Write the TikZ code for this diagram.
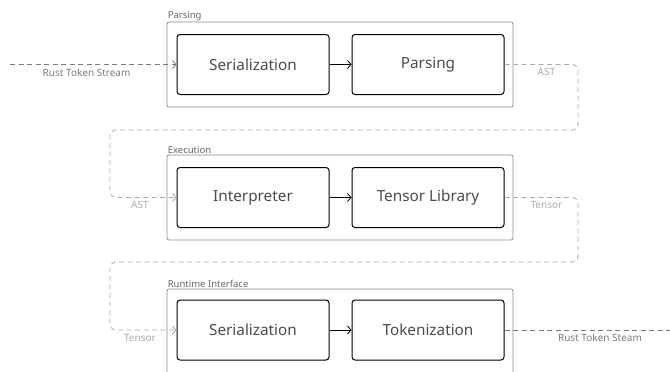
\documentclass[tikz,border=0pt]{standalone}
\usepackage{fontspec}
\setmainfont{Noto Sans}
\usetikzlibrary{positioning,arrows.meta}

\definecolor{boxtext}{HTML}{4A4A4A}
\definecolor{grouplabel}{HTML}{666666}
\definecolor{streamgray}{HTML}{7A7A7A}
\definecolor{datagray}{HTML}{ABABAB}

\tikzset{
	group/.style={draw=gray!90,line width=0.8pt,rounded corners=2pt,
		minimum width=346pt,minimum height=85pt,inner sep=0pt},
	grouptitle/.style={text=grouplabel,font=\fontsize{9.5}{11}\selectfont,inner sep=1pt,anchor=south west},
	stage/.style={draw=black,line width=1pt,rounded corners=3pt,
		minimum width=152pt,minimum height=60pt,inner sep=0pt,
		text=boxtext,font=\fontsize{15.3}{17}\selectfont},
	stream/.style={draw=streamgray,line width=0.8pt,dash pattern=on 5pt off 3.5pt},
	data/.style={draw=datagray,line width=0.8pt,dash pattern=on 5pt off 3.5pt,rounded corners=6pt},
	streamlabel/.style={text=streamgray,font=\fontsize{10}{12}\selectfont,inner sep=2pt},
	datalabel/.style={text=datagray,font=\fontsize{10}{12}\selectfont,inner sep=2pt}
}

\begin{document}
\begin{tikzpicture}[x=1pt,y=-1pt,>={Straight Barb[length=3.5pt,width=8pt]}]
		
		\useasboundingbox (0,0) rectangle (670,372);
		
		% Groups
		\node[group] (gparse) at (340,64.5) {};
		\node[group] (gexec) at (340,197.5) {};
		\node[group] (grun) at (340,331.5) {};
		
		\node[grouptitle] at (gparse.north west) {Parsing};
		\node[grouptitle] at (gexec.north west) {Execution};
		\node[grouptitle] at (grun.north west) {Runtime Interface};
		
		% Stages
		\node[stage] (serin) at (253,64.5) {Serialization};
		\node[stage] (parse) at (428,64.5) {Parsing};
		
		\node[stage] (interp) at (253,197.5) {Interpreter};
		\node[stage] (tensor) at (428,197.5) {Tensor Library};
		
		\node[stage] (serout) at (253,330) {Serialization};
		\node[stage] (token) at (428,330) {Tokenization};
		
		\draw[->,line width=0.8pt] (serin) -- (parse);
		\draw[->,line width=0.8pt] (interp) -- (tensor);
		\draw[->,line width=0.8pt] (serout) -- (token);
		
		% Input and output streams
		\coordinate (in) at (10,64.5);
		\coordinate (out) at (672,330);
		
		\draw[stream,->] (in) -- (serin.west)
		node[streamlabel,pos=0.46,below=1.5pt]{Rust Token Stream};
		
		\draw[stream] (token.east) -- (out)
		node[streamlabel,pos=0.57,below=1.5pt]{Rust Token Steam};
		
		% Parsing to Execution
		\coordinate (a1) at (578,64.5);
		\coordinate (a2) at (578,130);
		\coordinate (a3) at (110,130);
		\coordinate (a4) at (110,197.5);
		
		\draw[data,->] (parse.east) -- (a1) node[datalabel,pos=0.57,below=1.5pt]{AST}
		-- (a2) -- (a3) -- (a4) -- (interp.west) node[datalabel,pos=0.45,below=1.5pt]{AST};
		
		% Execution to Runtime Interface
		\coordinate (t1) at (578,197.5);
		\coordinate (t2) at (578,262);
		\coordinate (t3) at (110,262);
		\coordinate (t4) at (110,330);
		
		\draw[data,->] (tensor.east) -- (t1) node[datalabel,pos=0.57,below=1.5pt]{Tensor}
		-- (t2) -- (t3) -- (t4) -- (serout.west) node[datalabel,pos=0.45,below=1.5pt]{Tensor};
		
	\end{tikzpicture}
\end{document}
